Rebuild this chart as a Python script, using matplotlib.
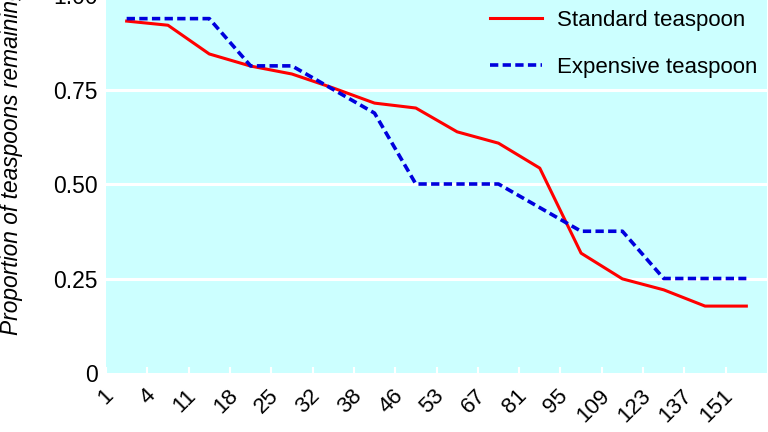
import matplotlib
matplotlib.use("Agg")
import matplotlib.pyplot as plt
import matplotlib.transforms as mtransforms
import numpy as np

plt.rcParams['font.family'] = ['Liberation Sans', 'DejaVu Sans']

# day labels on the x axis (ticks sit on bin edges, points at bin centres)
day_labels = ['1', '4', '11', '18', '25', '32', '38', '46', '53', '67',
              '81', '95', '109', '123', '137', '151']

standard = [0.931, 0.920, 0.844, 0.812, 0.791, 0.754, 0.714, 0.701,
            0.638, 0.608, 0.542, 0.317, 0.249, 0.220, 0.177, 0.177]
expensive = [0.9375, 0.9375, 0.9375, 0.8125, 0.8125, 0.75, 0.6875, 0.5,
             0.5, 0.5, 0.4375, 0.375, 0.375, 0.25, 0.25, 0.25]

y_ticks = [0, 0.25, 0.5, 0.75, 1.0]
y_tick_labels = ['0', '0.25', '0.50', '0.75', '1.00']

W, H = 768, 432
fig = plt.figure(figsize=(W / 100, H / 100), dpi=100)
# axes box in pixels: left 106, right 767, bottom 373, top -5 (cropped)
ax = fig.add_axes([106 / W, 1 - 373 / H, (767 - 106) / W, 378 / H])
ax.set_facecolor('#ccffff')
for s in ax.spines.values():
    s.set_visible(False)

x = np.arange(len(standard)) + 0.5
ax.plot(x, standard, color='#ff0000', lw=2.2, label='Standard teaspoon')
ax.plot(x, expensive, color='#0000dd', lw=2.6, ls=(0, (2.3, 1.2)),
        label='Expensive teaspoon')

ax.set_xlim(0, 16)
ax.set_ylim(0, 1.0)
tick_pos = np.arange(len(day_labels))
ax.set_xticks(tick_pos)
ax.set_xticklabels([])
ax.tick_params(axis='x', direction='in', color='white', length=4, width=1.5)
# rotated labels, ends sitting a little right of and below each tick
offset = mtransforms.ScaledTranslation(12 / 100, -12 / 100, fig.dpi_scale_trans)
for p, lab in zip(tick_pos, day_labels):
    ax.text(p, 0, lab, transform=ax.get_xaxis_transform() + offset,
            rotation=45, ha='right', va='top', fontsize=16, clip_on=False)

ax.set_yticks(y_ticks)
ax.set_yticklabels(y_tick_labels, fontsize=16.5)
ax.tick_params(axis='y', length=0, pad=6)
for yv in [0.25, 0.5, 0.75]:
    ax.axhline(yv, color='white', lw=2.2, zorder=0.5)

fig.text(12 / W, 1 - 335 / H, 'Proportion of teaspoons remaining', rotation=90,
         style='italic', fontsize=16.4, ha='center', va='bottom')

leg = ax.legend(loc='upper left', bbox_to_anchor=(490 / W, 1 - 10 / H),
                bbox_transform=fig.transFigure, frameon=False, fontsize=16,
                handlelength=2.35, handletextpad=0.68, labelspacing=1.15,
                borderpad=0, borderaxespad=0)

fig.savefig('out.png', dpi=100)
